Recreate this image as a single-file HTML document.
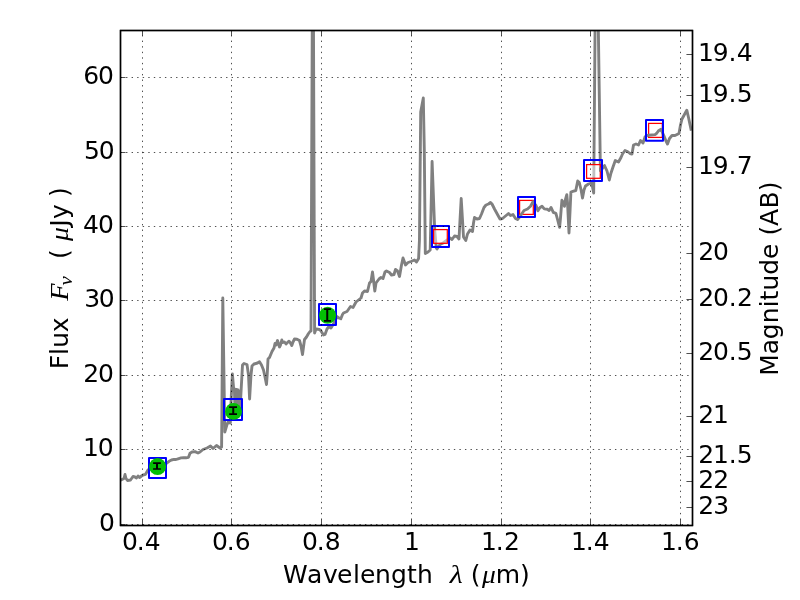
<!DOCTYPE html>
<html lang="en"><head><meta charset="utf-8"><title>SED plot</title>
<style>
html,body{margin:0;padding:0;background:#fff;}
body{width:800px;height:600px;overflow:hidden;}
svg{display:block;will-change:transform;}
text{font-family:"DejaVu Sans","Liberation Sans",sans-serif;font-size:25px;fill:#000;}
.m{font-family:"Liberation Serif","DejaVu Serif",serif;font-style:italic;}
.grid line{stroke:#000;stroke-width:0.694;stroke-dasharray:1.389 4.167;}
.tick line{stroke:#000;stroke-width:0.694;}
</style></head><body>
<svg width="800" height="600" viewBox="0 0 800 600">
<rect width="800" height="600" fill="#fff"/>
<defs><clipPath id="ax"><rect x="120" y="30" width="572" height="495"/></clipPath></defs>
<g clip-path="url(#ax)">
<rect x="519.6" y="200.4" width="13.7" height="14" fill="none" stroke="#f00" stroke-width="1.25"/>
<rect x="648.6" y="123.4" width="13.7" height="14" fill="none" stroke="#f00" stroke-width="1.25"/>
<polyline points="119.5,480.6 121,480 124,478.5 125,474.5 126,478.5 127.5,480.5 130.5,480 133,476.5 135,477 136.5,478 138,476 139.5,477.5 141.5,476 143,475 145.5,474.3 148,470 152,467.5 157,466 162,464.5 167,463 169,461.3 171.5,460 174,459.4 176,459.5 178,458.8 181,457.9 183.5,457.6 186,457.8 188.5,457.3 190,453.2 192,452 195,451.6 198,453 200,452 203,449.5 207,448 210.5,446 213,448.5 216.5,445.5 220,448 221.6,447 222.8,298 224.8,432 227,424.5 229,420.5 230.3,423 231.2,398 232.4,374 233.6,388 234.4,389 234.9,407 235.5,389.5 236.1,407 236.8,389.5 237.4,407 238.1,390 238.8,408 239.5,392 240.1,408 240.8,396 242.5,365 244,363.5 247,364.5 248.5,375 249.6,399 251,375 252,366 254,364 257.5,363 259.5,361.8 261.5,365 263.5,370 265,377 266.5,384.5 267.2,375 268,359 269.5,357.5 272,351.5 274,348 275,343.5 276,345 277.5,340.5 278.5,344 279.5,347 280.5,345 281.8,340 283,342.5 284.5,342 286,344 287.5,342.5 289,341.2 290.5,343 291.8,345.5 293,342 294.5,339 297,339.2 299.5,340.5 301,346 302.5,354.5 303.5,347 304.5,339.5 306.5,337 308.5,333.5 310,331.5 311,331 312.9,-134 314.6,333 316,329 319.5,329.5 321,331 323.5,335 325,334.5 327,329 329,326.5 331,328 332.5,325.5 335,321 337,316.6 339,318 340.8,318.8 342.5,314.5 343.5,313 347,311.5 350.5,306.5 353,307.5 356,302 358.5,300 361,298 362.5,293 364.5,291 367.5,291.5 369.5,283 371,281.5 372.5,272 373.5,280 374.8,291 376,283 379,279 381,277.5 383,278.5 385,272 386.5,271 389.5,272.5 391.5,275 394,274.5 395.5,269.5 397.5,271 399.5,276.5 401.5,265 403,258 404.5,262 405.5,265 408,262.5 411,261.5 414.5,260 416.5,262 418.6,258.5 419.45,240 420.7,112 423.3,98 424.3,150 425.3,253.5 428,252 430.2,250 432.1,161.5 434.7,230 436.3,248 437,249 440,244.5 443,243 446.5,240.5 450,238 452,239.5 454.5,236 457,236.5 459,239 460,220 461.2,198.5 462.5,220 463.5,237 465.8,240.5 467.5,234 470,230 472.5,231.5 473.5,223 474.5,217.5 477,219 479.5,218.5 481.5,214 484,207.5 486,205 488.5,204 490.5,202.5 492,204 494.5,209 497.5,214.5 500,219 502.5,218.5 505.5,216 508.5,213.5 510.5,215.5 513,214.5 515.5,218.5 517.5,219.5 520,216.5 524,210.5 527.5,209 530.5,206.3 533,201.8 536,205.5 537.9,210.8 539.8,207.8 542,206.3 544.3,208.9 547.3,209.3 549.1,210.4 551,207.4 553.3,212.3 555.9,213.4 557.4,219 559.6,227.4 560.4,219 561.9,200.3 563.4,202.5 564.5,206.3 565.6,198.8 566.8,194.6 567.5,202.5 569,233 570.1,210 570.9,192 572.8,191.3 575.8,190.5 577.7,181 579.3,182.5 581,189.5 582.5,198 584,190 585.5,186 588.5,184 591.5,183 592.5,187 593.7,193 596.25,-115 600.4,171 602,169 604.5,165.5 607,171 609.3,180 611,173 613,167 615.3,160.5 618.5,162 621,157.5 622.5,154 625,150.5 627.5,151.5 630,153.5 632,154 633.5,145 636,144 638.5,145 640.5,140.5 643,143 645,137 647,135.5 649,135.2 655,134.6 656.5,133.5 658.5,130.8 661,129.3 664,136 666,141 667.5,144 669.5,138.5 672,135.5 675,135.5 679,133.5 680.5,125 682,119 685,113.5 686.8,110.2 688.5,117.5 691,129.3" fill="none" stroke="#808080" stroke-width="2.88" stroke-linejoin="round" stroke-linecap="square"/>
<rect x="433.6" y="229.6" width="13.7" height="13.7" fill="#fff" fill-opacity="0.5" stroke="#f00" stroke-width="1.25"/>
<rect x="586.6" y="164.6" width="13.7" height="13.7" fill="#fff" fill-opacity="0.5" stroke="#f00" stroke-width="1.25"/>
<path d="M599.8 167.6V171.6" stroke="#808080" stroke-width="1.6" fill="none"/>
<rect x="149" y="458" width="17" height="20" fill="none" stroke="#00f" stroke-width="2" stroke-linejoin="round"/>
<rect x="224" y="399" width="18" height="21" fill="none" stroke="#00f" stroke-width="2" stroke-linejoin="round"/>
<rect x="319" y="304" width="17" height="21.1" fill="none" stroke="#00f" stroke-width="2" stroke-linejoin="round"/>
<rect x="432" y="226" width="17" height="21" fill="none" stroke="#00f" stroke-width="2" stroke-linejoin="round"/>
<rect x="518" y="197" width="17" height="20" fill="none" stroke="#00f" stroke-width="2" stroke-linejoin="round"/>
<rect x="584" y="160" width="18" height="21" fill="none" stroke="#00f" stroke-width="2" stroke-linejoin="round"/>
<rect x="646" y="120" width="17" height="20.75" fill="none" stroke="#00f" stroke-width="2" stroke-linejoin="round"/>
</g>
<g class="grid" clip-path="url(#ax)">
<line x1="142.5" y1="525.4" x2="142.5" y2="30"/>
<line x1="231.5" y1="525.4" x2="231.5" y2="30"/>
<line x1="321.5" y1="525.4" x2="321.5" y2="30"/>
<line x1="411.5" y1="525.4" x2="411.5" y2="30"/>
<line x1="501.5" y1="525.4" x2="501.5" y2="30"/>
<line x1="590.5" y1="525.4" x2="590.5" y2="30"/>
<line x1="680.5" y1="525.4" x2="680.5" y2="30"/>
<line x1="120.5" y1="524.5" x2="692" y2="524.5"/>
<line x1="120.5" y1="449.5" x2="692" y2="449.5"/>
<line x1="120.5" y1="375.5" x2="692" y2="375.5"/>
<line x1="120.5" y1="300.5" x2="692" y2="300.5"/>
<line x1="120.5" y1="226.5" x2="692" y2="226.5"/>
<line x1="120.5" y1="152.5" x2="692" y2="152.5"/>
<line x1="120.5" y1="77.5" x2="692" y2="77.5"/>
</g>
<g class="tick">
<line x1="142.5" y1="525" x2="142.5" y2="519.444"/>
<line x1="142.5" y1="30" x2="142.5" y2="35.5556"/>
<line x1="231.5" y1="525" x2="231.5" y2="519.444"/>
<line x1="231.5" y1="30" x2="231.5" y2="35.5556"/>
<line x1="321.5" y1="525" x2="321.5" y2="519.444"/>
<line x1="321.5" y1="30" x2="321.5" y2="35.5556"/>
<line x1="411.5" y1="525" x2="411.5" y2="519.444"/>
<line x1="411.5" y1="30" x2="411.5" y2="35.5556"/>
<line x1="501.5" y1="525" x2="501.5" y2="519.444"/>
<line x1="501.5" y1="30" x2="501.5" y2="35.5556"/>
<line x1="590.5" y1="525" x2="590.5" y2="519.444"/>
<line x1="590.5" y1="30" x2="590.5" y2="35.5556"/>
<line x1="680.5" y1="525" x2="680.5" y2="519.444"/>
<line x1="680.5" y1="30" x2="680.5" y2="35.5556"/>
<line x1="120" y1="524.5" x2="125.556" y2="524.5"/>
<line x1="120" y1="449.5" x2="125.556" y2="449.5"/>
<line x1="120" y1="375.5" x2="125.556" y2="375.5"/>
<line x1="120" y1="300.5" x2="125.556" y2="300.5"/>
<line x1="120" y1="226.5" x2="125.556" y2="226.5"/>
<line x1="120" y1="152.5" x2="125.556" y2="152.5"/>
<line x1="120" y1="77.5" x2="125.556" y2="77.5"/>
<line x1="692" y1="54.5" x2="686.444" y2="54.5"/>
<line x1="692" y1="95.5" x2="686.444" y2="95.5"/>
<line x1="692" y1="167.5" x2="686.444" y2="167.5"/>
<line x1="692" y1="253.5" x2="686.444" y2="253.5"/>
<line x1="692" y1="299.5" x2="686.444" y2="299.5"/>
<line x1="692" y1="353.5" x2="686.444" y2="353.5"/>
<line x1="692" y1="416.5" x2="686.444" y2="416.5"/>
<line x1="692" y1="456.5" x2="686.444" y2="456.5"/>
<line x1="692" y1="481.5" x2="686.444" y2="481.5"/>
<line x1="692" y1="507.5" x2="686.444" y2="507.5"/>
</g>
<circle cx="157.55" cy="466.5" r="8.55" fill="#04bf04"/>
<path d="M156 462.25H158V469.85H156z M153.1 462.25H160.9V463.9H153.1z M153.1 468.2H160.9V469.85H153.1z" fill="#000"/>
<circle cx="233.5" cy="411.4" r="8.45" fill="#04bf04"/>
<path d="M232.25 406.25H234.25V415H232.25z M229.1 406.25H237V407.9H229.1z M229.1 413.35H237V415H229.1z" fill="#000"/>
<circle cx="327.6" cy="315.2" r="8.55" fill="#04bf04"/>
<path d="M326.25 308.25H328.25V321.75H326.25z M324 308.25H331V309.9H324z M324 320.1H331V321.75H324z" fill="#000"/>
<rect x="120.5" y="30.5" width="572" height="495" fill="none" stroke="#000" stroke-width="1.389"/>
<rect x="120.5" y="30.5" width="572" height="495" fill="none" stroke="#000" stroke-width="1.389"/>
<text y="550" x="121.92 136.80 144.86" xml:space="preserve">0.4</text>
<text y="550" x="211.92 226.80 234.86" xml:space="preserve">0.6</text>
<text y="550" x="301.92 316.80 324.84" xml:space="preserve">0.8</text>
<text y="550" x="404.01" xml:space="preserve">1</text>
<text y="550" x="481.01 495.80 504.03" xml:space="preserve">1.2</text>
<text y="550" x="571.01 585.80 593.86" xml:space="preserve">1.4</text>
<text y="550" x="661.01 675.80 683.86" xml:space="preserve">1.6</text>
<text y="531" x="98.92" xml:space="preserve">0</text>
<text y="456" x="83.01 97.81" xml:space="preserve">10</text>
<text y="382" x="83.15 97.92" xml:space="preserve">20</text>
<text y="307" x="84.13 98.81" xml:space="preserve">30</text>
<text y="233" x="83.07 97.92" xml:space="preserve">40</text>
<text y="159" x="83.92 98.74" xml:space="preserve">50</text>
<text y="84" x="83.15 97.92" xml:space="preserve">60</text>
<text y="61" x="698.01 712.86 728.62 736.79" xml:space="preserve">19.4</text>
<text y="102" x="698.01 712.86 728.62 736.66" xml:space="preserve">19.5</text>
<text y="174" x="698.01 712.86 728.62 736.69" xml:space="preserve">19.7</text>
<text y="260" x="698.15 712.92" xml:space="preserve">20</text>
<text y="306" x="698.15 712.92 728.80 737.03" xml:space="preserve">20.2</text>
<text y="360" x="698.15 712.92 728.80 736.79" xml:space="preserve">20.5</text>
<text y="423" x="698.15 713.01" xml:space="preserve">21</text>
<text y="463" x="698.15 713.01 728.80 736.79" xml:space="preserve">21.5</text>
<text y="488" x="698.15 713.15" xml:space="preserve">22</text>
<text y="514" x="698.15 713.13" xml:space="preserve">23</text>
<text y="583" x="282.91 306.94 323.01 337.00 353.09 360.01 375.09 391.00 406.95 417.05" xml:space="preserve">Wavelength</text>
<text class="m" transform="translate(449.70,583) scale(1.2,1)">λ</text>
<text y="583" x="470.85">(</text>
<text class="m" transform="translate(482.00,583) scale(1.1,1)">μ</text>
<text y="583" x="495.73 520.00">m)</text>
<g transform="translate(68,400) rotate(-90)">
<text y="0" x="30.88 45.09 52.22 67.88" xml:space="preserve">Flux</text>
<text class="m" transform="translate(99.2,0) scale(1.13,1.04)">F</text>
<text class="m" style="font-size:19px" transform="translate(114.6,3.9) scale(1.1,1)">ν</text>
<text y="0" x="141.08" xml:space="preserve">(</text>
<text class="m" transform="translate(159,0) scale(1.1,1)">μ</text>
<text y="0" x="173.29">J</text>
<text y="0" x="181.13" xml:space="preserve">y</text>
<text y="0" x="203.11" xml:space="preserve">)</text>
</g>
<g transform="translate(778,400) rotate(-90)">
<text y="0" x="24.17 45.69 60.88 76.89 92.70 99.63 109.43 125.26 141.09 150.09 164.53 174.05 191.51 208.71" xml:space="preserve">Magnitude (AB)</text>
</g>
</svg></body></html>
